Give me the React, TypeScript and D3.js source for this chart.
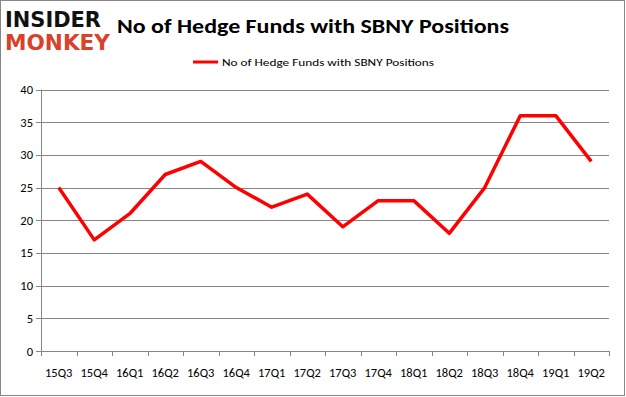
import React from 'react'
import * as d3 from 'd3'

const width = 626
const height = 397

const quarters = ['15Q3', '15Q4', '16Q1', '16Q2', '16Q3', '16Q4', '17Q1', '17Q2', '17Q3', '17Q4', '18Q1', '18Q2', '18Q3', '18Q4', '19Q1', '19Q2']
const funds = [25, 17, 21, 27, 29, 25, 22, 24, 19, 23, 23, 18, 25, 36, 36, 29]
const yTicks = [0, 5, 10, 15, 20, 25, 30, 35, 40]

const seriesName = 'No of Hedge Funds with SBNY Positions'
const title = 'No of Hedge Funds with SBNY Positions'

const plot = { left: 41, right: 609, top: 89.5, bottom: 351 }
const font = 'Calibri, Carlito, "Open Sans", sans-serif'

export default function App() {
    const x = d3.scaleBand().domain(quarters).range([plot.left, plot.right])
    const y = d3.scaleLinear().domain([0, 40]).range([plot.bottom, plot.top])

    const line = d3
        .line<number>()
        .x((_, i) => (x(quarters[i]) as number) + x.bandwidth() / 2)
        .y((d) => y(d))

    const boundaries = quarters.map((q) => x(q) as number).concat([plot.right])

    return (
        <svg width={width} height={height} style={{ position: 'absolute', left: 0, top: 0 }}>
            <rect x={0.5} y={0.5} width={width - 2} height={height - 2} fill="#fff" stroke="#868686" />
            {/* logo */}
            <text x={5} y={27} fontFamily="'DejaVu Sans', sans-serif" fontWeight={900} fontSize={22} fill="#111" textLength={96} lengthAdjust="spacingAndGlyphs">INSIDER</text>
            <text x={5} y={50} fontFamily="'DejaVu Sans', sans-serif" fontWeight={900} fontSize={22} fill="#d9412b" textLength={105} lengthAdjust="spacingAndGlyphs">MONKEY</text>
            <text x={117} y={33} fontFamily={font} fontWeight="bold" fontSize={21} fill="#000" textLength={392} lengthAdjust="spacingAndGlyphs">{title}</text>
            {/* legend */}
            <line x1={193} x2={218} y1={62} y2={62} stroke="#ff0000" strokeWidth={3} />
            <text x={222} y={66} fontFamily={font} fontSize={11} fill="#000" textLength={212} lengthAdjust="spacingAndGlyphs">{seriesName}</text>
            {/* grid + y axis */}
            {yTicks.map((t) => (
                <g key={t}>
                    <line x1={plot.left - 5} x2={plot.right} y1={Math.round(y(t)) + 0.5} y2={Math.round(y(t)) + 0.5} stroke="#868686" />
                    <text x={33} y={y(t) + 4.5} textAnchor="end" fontFamily={font} fontSize={12.5} fill="#000">{t}</text>
                </g>
            ))}
            <line x1={plot.left + 0.5} x2={plot.left + 0.5} y1={plot.top} y2={plot.bottom} stroke="#868686" />
            {boundaries.map((b, i) => (
                <line key={i} x1={Math.round(b) + 0.5} x2={Math.round(b) + 0.5} y1={plot.bottom} y2={plot.bottom + 5} stroke="#868686" />
            ))}
            {quarters.map((q) => (
                <text key={q} x={(x(q) as number) + x.bandwidth() / 2} y={377} textAnchor="middle" fontFamily={font} fontSize={12.5} fill="#000">{q}</text>
            ))}
            <path d={line(funds) || ''} fill="none" stroke="#ff0000" strokeWidth={3.5} strokeLinejoin="round" />
        </svg>
    )
}
